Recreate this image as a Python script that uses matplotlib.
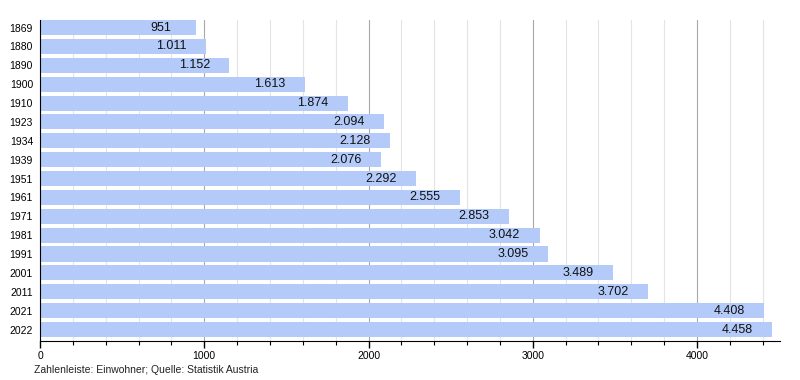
import matplotlib.pyplot as plt
from matplotlib.ticker import MultipleLocator

plt.rcParams['font.family'] = ['Liberation Sans', 'DejaVu Sans']

years = ['1869', '1880', '1890', '1900', '1910', '1923', '1934', '1939', '1951',
         '1961', '1971', '1981', '1991', '2001', '2011', '2021', '2022']
population = [951, 1011, 1152, 1613, 1874, 2094, 2128, 2076, 2292,
              2555, 2853, 3042, 3095, 3489, 3702, 4408, 4458]

fig = plt.figure(figsize=(8, 3.8), dpi=100)
ax = fig.add_axes([0.05, 0.1026, 0.925, 0.8447])

pos = list(range(len(years)))
ax.barh(pos, population, height=0.8, color='#b4cbfa', zorder=2)

for p, v in zip(pos, population):
    label = f'{v:,}'.replace(',', '.')
    ax.annotate(label, (v, p), xytext=(-35, 0), textcoords='offset pixels',
                ha='center', va='center', fontsize=9, color='#111111', zorder=3)

ax.set_yticks(pos)
ax.set_yticklabels(years, fontsize=7.5)
ax.set_ylim(16.61, -0.4)
ax.set_xlim(0, 4505)

ax.xaxis.set_major_locator(MultipleLocator(1000))
ax.xaxis.set_minor_locator(MultipleLocator(200))
ax.grid(axis='x', which='major', color='#a8a8a8', linewidth=0.8, zorder=0)
ax.grid(axis='x', which='minor', color='#e4e4e4', linewidth=0.8, zorder=0)
ax.set_axisbelow(True)

ax.tick_params(axis='x', which='major', length=5, width=1, labelsize=7.5, pad=2)
ax.tick_params(axis='x', which='minor', length=3, width=0.8)
ax.tick_params(axis='y', length=0, pad=5)

for side in ['top', 'right']:
    ax.spines[side].set_visible(False)
ax.spines['left'].set_color('black')
ax.spines['bottom'].set_color('black')

fig.text(0.043, 0.026, 'Zahlenleiste: Einwohner; Quelle: Statistik Austria',
         fontsize=7.5, color='#222222', va='center')

fig.savefig('out.png', dpi=100)
